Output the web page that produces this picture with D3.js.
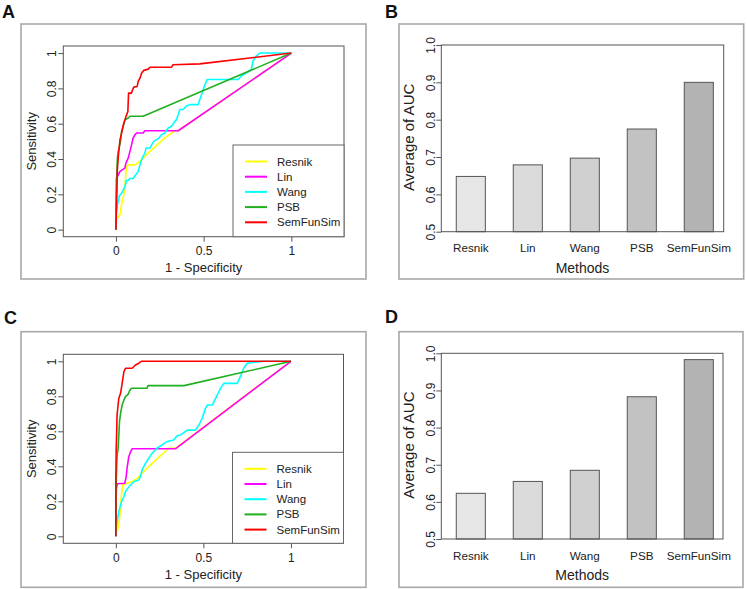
<!DOCTYPE html>
<html><head><meta charset="utf-8">
<script src="https://cdn.jsdelivr.net/npm/d3@7"></script>
<style>
html,body{margin:0;padding:0;background:#fff;}
text{font-family:"Liberation Sans",Arial,sans-serif;fill:#222;}
</style></head>
<body><svg id="c" width="747" height="589"></svg>
<script>
// ---------- data ----------
const methods = ["Resnik","Lin","Wang","PSB","SemFunSim"];
const rocXTicks = [0, 0.5, 1];
const rocXTickLabels = ["0","0.5","1"];
const rocYTicks = [0, 0.2, 0.4, 0.6, 0.8, 1];
const rocYTickLabels = ["0","0.2","0.4","0.6","0.8","1"];
const barYTicks = [0.5, 0.6, 0.7, 0.8, 0.9, 1.0];
const barYTickLabels = ["0.5","0.6","0.7","0.8","0.9","1.0"];

// ROC curves, panel A: [1 - specificity, sensitivity]
const rocA_Resnik = [[0,0],[0,0.03],[0.004,0.064],[0.023,0.083],[0.032,0.14],[0.045,0.2],[0.051,0.235],[0.055,0.3],[0.061,0.358],[0.07,0.367],[0.108,0.367],[0.137,0.386],[0.155,0.405],[0.194,0.443],[0.279,0.52],[0.33,0.556],[0.355,0.56],[1,1]];
const rocA_Lin = [[0,0],[0.002,0.2],[0.003,0.29],[0.008,0.3],[0.023,0.33],[0.038,0.34],[0.051,0.348],[0.057,0.377],[0.07,0.405],[0.08,0.443],[0.089,0.48],[0.098,0.519],[0.108,0.537],[0.118,0.547],[0.155,0.547],[0.165,0.56],[0.355,0.56],[1,1]];
const rocA_Wang = [[0,0],[0,0.074],[0.008,0.14],[0.019,0.19],[0.032,0.206],[0.042,0.225],[0.051,0.244],[0.061,0.28],[0.07,0.28],[0.08,0.29],[0.098,0.29],[0.127,0.33],[0.137,0.367],[0.146,0.395],[0.155,0.415],[0.165,0.433],[0.171,0.462],[0.194,0.462],[0.203,0.48],[0.216,0.5],[0.232,0.51],[0.246,0.52],[0.26,0.537],[0.279,0.547],[0.298,0.576],[0.317,0.585],[0.326,0.598],[0.336,0.613],[0.345,0.623],[0.355,0.651],[0.364,0.68],[0.383,0.68],[0.402,0.70],[0.421,0.708],[0.469,0.708],[0.488,0.765],[0.507,0.82],[0.52,0.85],[0.696,0.85],[0.715,0.87],[0.744,0.888],[0.772,0.907],[0.781,0.955],[0.80,0.983],[0.82,1],[1,1]];
const rocA_PSB = [[0,0],[0.003,0.21],[0.005,0.31],[0.008,0.40],[0.013,0.44],[0.02,0.47],[0.026,0.5],[0.032,0.556],[0.042,0.585],[0.051,0.622],[0.07,0.632],[0.08,0.642],[0.155,0.642],[1,1]];
const rocA_SemFunSim = [[0,0],[0.004,0.167],[0.008,0.337],[0.015,0.432],[0.023,0.508],[0.032,0.545],[0.042,0.593],[0.057,0.64],[0.068,0.669],[0.072,0.773],[0.088,0.773],[0.095,0.792],[0.102,0.807],[0.121,0.811],[0.127,0.839],[0.137,0.858],[0.146,0.886],[0.159,0.902],[0.184,0.909],[0.194,0.92],[0.317,0.92],[0.326,0.934],[0.478,0.939],[1,1]];

// ROC curves, panel C
const rocC_Resnik = [[0,0],[0.002,0.026],[0.013,0.046],[0.021,0.103],[0.032,0.236],[0.04,0.293],[0.064,0.303],[0.093,0.312],[0.121,0.331],[0.15,0.36],[0.207,0.417],[0.302,0.503],[0.34,0.503],[1,1]];
const rocC_Lin = [[0,0],[0.002,0.21],[0.003,0.27],[0.008,0.3],[0.051,0.303],[0.059,0.34],[0.064,0.389],[0.074,0.455],[0.084,0.483],[0.093,0.5],[0.34,0.5],[1,1]];
const rocC_Wang = [[0,0],[0.002,0.046],[0.007,0.083],[0.017,0.14],[0.027,0.179],[0.036,0.207],[0.046,0.226],[0.055,0.255],[0.065,0.27],[0.084,0.293],[0.102,0.312],[0.131,0.322],[0.14,0.34],[0.15,0.379],[0.169,0.417],[0.188,0.446],[0.207,0.474],[0.235,0.503],[0.264,0.522],[0.29,0.54],[0.33,0.55],[0.35,0.575],[0.37,0.579],[0.408,0.607],[0.455,0.607],[0.474,0.636],[0.493,0.674],[0.512,0.731],[0.522,0.75],[0.55,0.75],[0.579,0.807],[0.598,0.846],[0.617,0.874],[0.693,0.874],[0.711,0.912],[0.73,0.96],[0.75,0.989],[0.825,0.998],[0.84,1],[1,1]];
const rocC_PSB = [[0,0],[0.002,0.3],[0.005,0.4],[0.008,0.47],[0.013,0.5],[0.021,0.655],[0.027,0.703],[0.036,0.75],[0.046,0.779],[0.055,0.798],[0.07,0.811],[0.078,0.83],[0.089,0.846],[0.178,0.846],[0.184,0.861],[0.39,0.861],[1,1]];
const rocC_SemFunSim = [[0,0],[0,0.3],[0.002,0.493],[0.005,0.6],[0.007,0.693],[0.017,0.789],[0.027,0.817],[0.036,0.874],[0.046,0.94],[0.055,0.96],[0.093,0.96],[0.102,0.969],[0.112,0.979],[0.131,0.989],[0.146,1],[1,1]];

// Average AUC bars
const aucB = [0.648, 0.679, 0.697, 0.775, 0.900];
const aucD = [0.623, 0.655, 0.685, 0.883, 0.983];

// ---------- styles ----------
const lineColors = ["#ffff00","#ff00ff","#00ffff","#1fb01f","#ff0000"];
const barColors = ["#e6e6e6","#dbdbdb","#d0d0d0","#c2c2c2","#b3b3b3"];
const FONT = '"Liberation Sans",Arial,sans-serif';

const svg = d3.select("#c");
svg.append("rect").attr("width",747).attr("height",589).attr("fill","#fff");

function panelLetter(x, y, t){
  svg.append("text").attr("x",x).attr("y",y).text(t)
    .style("font-size","18px").style("font-weight","bold").style("fill","#111");
}
function outer(x0,y0,x1,y1){
  svg.append("rect").attr("x",x0).attr("y",y0).attr("width",x1-x0).attr("height",y1-y0)
    .attr("fill","none").attr("stroke","#a8a8a8").attr("stroke-width",1.6);
}

function drawROC(cfg, curves){
  outer(cfg.ox0, cfg.oy0, cfg.ox1, cfg.oy1);
  const x = d3.scaleLinear().domain([-0.3,1.3]).range([cfg.bx0, cfg.bx1]);
  const y = d3.scaleLinear().domain([-0.04,1.04]).range([cfg.by1, cfg.by0]);
  const g = svg.append("g");
  // curves
  const line = d3.line().x(d=>x(d[0])).y(d=>y(d[1]));
  curves.forEach((c,i)=>{
    g.append("path").attr("d", line(c)).attr("fill","none")
      .attr("stroke", lineColors[i]).attr("stroke-width",1.6).attr("stroke-linejoin","round");
  });
  // box
  g.append("rect").attr("x",cfg.bx0).attr("y",cfg.by0).attr("width",cfg.bx1-cfg.bx0).attr("height",cfg.by1-cfg.by0)
    .attr("fill","none").attr("stroke","#555").attr("stroke-width",1);
  // axes
  const ax = g.append("g").attr("transform",`translate(0,${cfg.by1})`)
    .call(d3.axisBottom(x).tickValues(rocXTicks).tickFormat((d,i)=>rocXTickLabels[i]).tickSizeOuter(0).tickSize(5));
  ax.select(".domain").remove();
  ax.selectAll("line").attr("stroke","#555");
  ax.selectAll("text").attr("y",18.5).attr("dy",0).style("font-size","12px").style("font-family",FONT).attr("fill","#222");
  const ay = g.append("g").attr("transform",`translate(${cfg.bx0},0)`)
    .call(d3.axisLeft(y).tickValues(rocYTicks).tickFormat((d,i)=>rocYTickLabels[i]).tickSizeOuter(0).tickSize(5));
  ay.select(".domain").remove();
  ay.selectAll("line").attr("stroke","#555");
  ay.selectAll("text").attr("transform","rotate(-90)").attr("x",0).attr("y",-7).attr("dy",0)
    .attr("text-anchor","middle").style("font-size","12px").style("font-family",FONT).attr("fill","#222");
  // titles
  g.append("text").attr("x",(cfg.bx0+cfg.bx1)/2).attr("y",cfg.by1+cfg.xtOff).attr("text-anchor","middle")
    .style("font-size","13px").text("1 - Specificity");
  g.append("text").attr("transform",`translate(${cfg.ytX},${(cfg.by0+cfg.by1)/2}) rotate(-90)`).attr("text-anchor","middle")
    .style("font-size","13px").text("Sensitivity");
  // legend
  const lg = g.append("g");
  lg.append("rect").attr("x",cfg.lx0).attr("y",cfg.ly0).attr("width",cfg.bx1-cfg.lx0).attr("height",cfg.by1-cfg.ly0)
    .attr("fill","#fff").attr("stroke","#666").attr("stroke-width",1);
  methods.forEach((m,i)=>{
    const yy = cfg.ly0 + 16.5 + i*15.2;
    lg.append("line").attr("x1",cfg.lx0+12).attr("x2",cfg.lx0+34).attr("y1",yy).attr("y2",yy)
      .attr("stroke",lineColors[i]).attr("stroke-width",2);
    lg.append("text").attr("x",cfg.lx0+44).attr("y",yy+4).style("font-size","11.5px").text(m);
  });
}

function drawBar(cfg, values){
  outer(cfg.ox0, cfg.oy0, cfg.ox1, cfg.oy1);
  const x = d3.scaleBand().domain(methods).range([cfg.bx0+1, cfg.bx0+286]).paddingInner(0.49).paddingOuter(0.245);
  const y = d3.scaleLinear().domain([0.5,1.0]).range([cfg.by1, cfg.by0]);
  const g = svg.append("g");
  g.selectAll("rect.bar").data(values).enter().append("rect").attr("class","bar")
    .attr("x",(d,i)=>x(methods[i])).attr("width",x.bandwidth())
    .attr("y",d=>y(d)).attr("height",d=>y(0.5)-y(d))
    .attr("fill",(d,i)=>barColors[i]).attr("stroke","#555").attr("stroke-width",1);
  g.append("rect").attr("x",cfg.bx0).attr("y",cfg.by0).attr("width",cfg.bx1-cfg.bx0).attr("height",cfg.by1-cfg.by0)
    .attr("fill","none").attr("stroke","#555").attr("stroke-width",1);
  const ax = g.append("g").attr("transform",`translate(0,${cfg.by1})`)
    .call(d3.axisBottom(x).tickSize(0).tickSizeOuter(0));
  ax.select(".domain").remove();
  ax.selectAll("text").attr("y",20.5).attr("dy",0).style("font-size","11.7px").style("font-family",FONT).attr("fill","#222");
  const ay = g.append("g").attr("transform",`translate(${cfg.bx0},0)`)
    .call(d3.axisLeft(y).tickValues(barYTicks).tickFormat((d,i)=>barYTickLabels[i]).tickSizeOuter(0).tickSize(5));
  ay.select(".domain").remove();
  ay.selectAll("line").attr("stroke","#555");
  ay.selectAll("text").attr("transform","rotate(-90)").attr("x",0).attr("y",-6).attr("dy",0)
    .attr("text-anchor","middle").style("font-size","12px").style("font-family",FONT).attr("fill","#222");
  g.append("text").attr("x",(cfg.bx0+cfg.bx1)/2).attr("y",cfg.by1+41).attr("text-anchor","middle")
    .style("font-size","14px").text("Methods");
  g.append("text").attr("transform",`translate(${cfg.ytX},${(cfg.by0+cfg.by1)/2 - 1}) rotate(-90)`).attr("text-anchor","middle")
    .style("font-size","15px").text("Average of AUC");
}

drawROC({ox0:21,oy0:24,ox1:366,oy1:279,bx0:63.3,bx1:344,by0:46,by1:236.7,xtOff:35,ytX:35.5,lx0:233,ly0:145},
  [rocA_Resnik,rocA_Lin,rocA_Wang,rocA_PSB,rocA_SemFunSim]);
drawROC({ox0:21,oy0:331.7,ox1:366,oy1:587.3,bx0:63.3,bx1:343.5,by0:354.3,by1:543.3,xtOff:36,ytX:35.5,lx0:232.5,ly0:452.3},
  [rocC_Resnik,rocC_Lin,rocC_Wang,rocC_PSB,rocC_SemFunSim]);
drawBar({ox0:399,oy0:24,ox1:743.7,oy1:279,bx0:441.3,bx1:723.7,by0:45,by1:231.7,ytX:413.5}, aucB);
drawBar({ox0:399,oy0:331.7,ox1:743,oy1:587.3,bx0:441.3,bx1:723,by0:353.3,by1:539,ytX:413.5}, aucD);

panelLetter(2, 17.5, "A");
panelLetter(385, 17.5, "B");
panelLetter(4, 324, "C");
panelLetter(385, 323, "D");
</script></body></html>
